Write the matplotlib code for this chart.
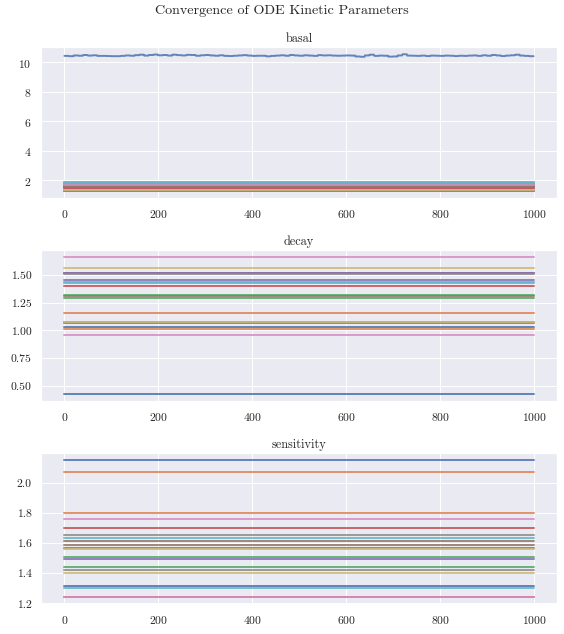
import numpy as np
import matplotlib
matplotlib.use("Agg")
import matplotlib.pyplot as plt
import seaborn as sns

sns.set_theme(style="darkgrid", context="notebook")
plt.rcParams["font.family"] = "serif"
plt.rcParams["font.serif"] = ["cmr10", "DejaVu Serif"]
plt.rcParams["mathtext.fontset"] = "cm"
plt.rcParams["axes.formatter.use_mathtext"] = True
plt.rcParams["axes.unicode_minus"] = False

n_iter = 1000
params = ["basal", "decay", "sensitivity"]

# basal: first trace is noisy (chain held ~10 iterations per value), others flat
basal_trace0 = [
    10.44, 10.42, 10.47, 10.45, 10.50, 10.46, 10.48, 10.44, 10.44, 10.43,
    10.42, 10.42, 10.44, 10.47, 10.45, 10.49, 10.52, 10.46, 10.50, 10.53,
    10.48, 10.50, 10.46, 10.52, 10.49, 10.47, 10.51, 10.50, 10.45, 10.48,
    10.50, 10.47, 10.45, 10.48, 10.44, 10.43, 10.45, 10.47, 10.49, 10.46,
    10.44, 10.45, 10.45, 10.41, 10.44, 10.46, 10.48, 10.45, 10.50, 10.47,
    10.45, 10.48, 10.46, 10.44, 10.49, 10.47, 10.48, 10.46, 10.45, 10.46,
    10.47, 10.46, 10.40, 10.38, 10.47, 10.52, 10.44, 10.46, 10.45, 10.39,
    10.40, 10.47, 10.55, 10.46, 10.45, 10.44, 10.46, 10.43, 10.46, 10.45,
    10.44, 10.46, 10.45, 10.43, 10.45, 10.44, 10.46, 10.47, 10.44, 10.48,
    10.45, 10.50, 10.47, 10.43, 10.46, 10.48, 10.52, 10.46, 10.44, 10.42,
]
basal_flat = [1.90, 1.85, 1.55, 1.62, 1.50, 1.40, 1.70, 1.33, 1.80, 1.25,
              1.78, 1.68, 1.45, 1.58, 1.65, 1.72, 1.30, 1.38, 1.83]

decay_vals = [0.42, 1.158, 1.32, 1.40, 1.458, 1.306, 1.661, 1.071, 1.56, 1.426,
              1.027, 1.009, 1.29, 1.52, 1.515, 1.062, 0.958, 1.51, 1.072, 1.435]

sens_vals = [2.149, 2.068, 1.507, 1.698, 1.568, 1.59, 1.756, 1.654, 1.56, 1.634,
             1.318, 1.798, 1.438, 1.24, 1.494, 1.61, 1.245, 1.42, 1.40, 1.302]

xticks = [0, 200, 400, 600, 800, 1000]

fig, axes = plt.subplots(3, 1, figsize=(8, 9), dpi=70.5)
fig.subplots_adjust(left=0.0727, right=0.9876, top=0.9245, bottom=0.047, hspace=0.345)
fig.suptitle("Convergence of ODE Kinetic Parameters", fontsize=14.4, y=0.992)

x = np.arange(n_iter)
lw = 2.0
al = 0.85

ax = axes[0]
ax.plot(x, np.repeat(basal_trace0, 10), lw=lw, alpha=al)
for v in basal_flat:
    ax.plot(x, np.full(n_iter, v), lw=lw, alpha=al)
ax.set_yticks([2, 4, 6, 8, 10])

ax = axes[1]
for v in decay_vals:
    ax.plot(x, np.full(n_iter, v), lw=lw, alpha=al)
ax.set_yticks([0.5, 0.75, 1.0, 1.25, 1.5])
ax.set_yticklabels(["0.50", "0.75", "1.00", "1.25", "1.50"])

ax = axes[2]
for v in sens_vals:
    ax.plot(x, np.full(n_iter, v), lw=lw, alpha=al)
ax.set_yticks([1.2, 1.4, 1.6, 1.8, 2.0])
ax.set_yticklabels(["1.2", "1.4", "1.6", "1.8", "2.0"])

for ax, name in zip(axes, params):
    ax.set_title(name, fontsize=12.5)
    ax.set_xticks(xticks)
    ax.tick_params(labelsize=12)

fig.savefig("out.png", dpi=70.5)
